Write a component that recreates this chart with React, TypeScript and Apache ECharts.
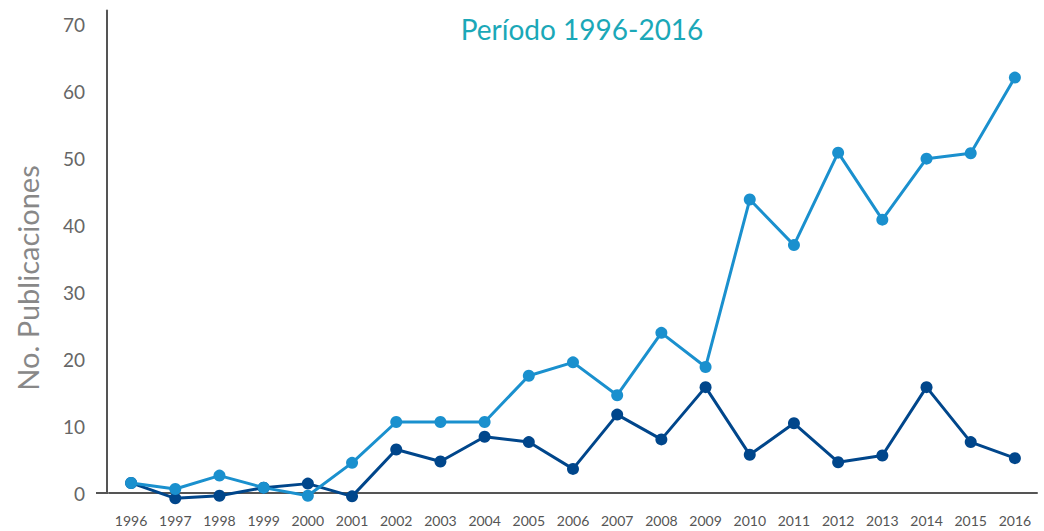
import React, { useEffect, useRef } from "react";
import * as echarts from "echarts";

const years = ["1996","1997","1998","1999","2000","2001","2002","2003","2004","2005","2006","2007","2008","2009","2010","2011","2012","2013","2014","2015","2016"];
const lightSeries = [1.5, 0.6, 2.6, 0.8, -0.4, 4.5, 10.6, 10.6, 10.6, 17.5, 19.5, 14.6, 23.9, 18.8, 43.8, 37.0, 50.8, 40.8, 49.9, 50.7, 62.0];
const darkSeries = [1.5, -0.8, -0.4, 0.8, 1.4, -0.5, 6.5, 4.7, 8.4, 7.6, 3.6, 11.7, 8.0, 15.8, 5.7, 10.4, 4.6, 5.6, 15.8, 7.6, 5.2];
const yTicks = [0, 10, 20, 30, 40, 50, 60, 70];

export default function App() {
  const ref = useRef<HTMLDivElement>(null);
  useEffect(() => {
    const chart = echarts.init(ref.current!, null, { renderer: "svg" });
    chart.setOption({
      animation: false,
      backgroundColor: "#ffffff",
      grid: { left: 109, width: 928, top: 10.6, height: 482.4, containLabel: false },
      xAxis: {
        type: "category",
        data: years,
        boundaryGap: true,
        axisLine: { lineStyle: { color: "#555", width: 2 } },
        axisTick: { show: false },
        axisLabel: { color: "#555", fontSize: 14, margin: 20, fontFamily: "Lato" },
        splitLine: { show: false },
      },
      yAxis: {
        type: "value",
        min: 0,
        max: 72,
        interval: 10,
        offset: 2,
        axisLine: { show: true, lineStyle: { color: "#555", width: 2 } },
        axisTick: { show: false },
        splitLine: { show: false },
        axisLabel: {
          color: "#666",
          fontSize: 19,
          margin: 22,
          fontFamily: "Lato",
          showMaxLabel: false,
          formatter: (v: number) => (yTicks.includes(v) ? String(v) : ""),
        },
      },
      graphic: [
        {
          type: "line",
          shape: { x1: 96, y1: 493, x2: 108, y2: 493 },
          style: { stroke: "#555", lineWidth: 2 },
        },
        {
          type: "text",
          x: 582,
          y: 29,
          style: {
            text: "Período 1996-2016",
            fill: "#1ba8b8",
            fontSize: 28,
            fontFamily: "Lato",
            align: "center",
            verticalAlign: "middle",
          },
        },
        {
          type: "text",
          x: 27,
          y: 278,
          rotation: Math.PI / 2,
          style: {
            text: "No. Publicaciones",
            fill: "#888",
            fontSize: 29,
            fontFamily: "Lato",
            align: "center",
            verticalAlign: "middle",
          },
        },
      ],
      series: [
        {
          type: "line",
          data: darkSeries,
          clip: false,
          symbol: "circle",
          symbolSize: 12,
          lineStyle: { color: "#00468b", width: 3 },
          itemStyle: { color: "#00468b" },
          z: 2,
        },
        {
          type: "line",
          data: lightSeries,
          clip: false,
          symbol: "circle",
          symbolSize: 12,
          lineStyle: { color: "#1a90ce", width: 3 },
          itemStyle: { color: "#1a90ce" },
          z: 3,
        },
      ],
    });
    return () => chart.dispose();
  }, []);
  return <div ref={ref} style={{ position: "absolute", left: 0, top: 0, width: 1044, height: 531 }} />;
}
